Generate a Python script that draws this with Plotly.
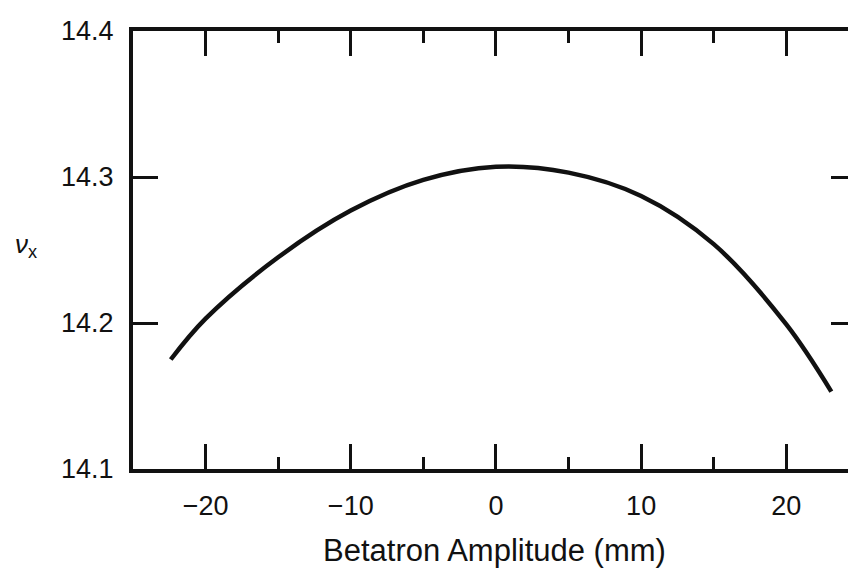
import plotly.graph_objects as go

# betatron amplitude (mm) vs horizontal tune
amplitude = [-22.4, -20, -15, -10, -5, 0, 5, 10, 15, 20, 23.1]
tune_x = [14.175, 14.203, 14.245, 14.277, 14.298, 14.307, 14.303, 14.287, 14.254, 14.199, 14.153]

x_ticks = [-20, -10, 0, 10, 20]
y_ticks = [14.1, 14.2, 14.3, 14.4]

ink = "#111111"
font = "Liberation Sans, Arial, Helvetica, sans-serif"

fig = go.Figure()

fig.add_trace(
    go.Scatter(
        x=amplitude,
        y=tune_x,
        mode="lines",
        line=dict(color=ink, width=4.5, shape="spline", smoothing=1.0),
        showlegend=False,
    )
)

fig.update_xaxes(
    range=[-25, 24.8],
    tickvals=x_ticks,
    ticks="inside",
    ticklen=25,
    tickwidth=2.5,
    tickcolor=ink,
    showline=True,
    linewidth=4,
    linecolor=ink,
    mirror="ticks",
    showgrid=False,
    zeroline=False,
    automargin=False,
    minor=dict(ticks="inside", ticklen=12, tickwidth=2.5, tickcolor=ink, dtick=5, tick0=0, showgrid=False),
    tickfont=dict(family=font, size=27, color=ink),
    ticklabelstandoff=10,
    title=dict(text="Betatron Amplitude (mm)", font=dict(family=font, size=31, color=ink), standoff=20),
)

fig.update_yaxes(
    range=[14.1, 14.4],
    tickvals=y_ticks,
    tickformat=".1f",
    ticks="inside",
    ticklen=25,
    tickwidth=3,
    tickcolor=ink,
    showline=True,
    linewidth=4,
    linecolor=ink,
    mirror="ticks",
    showgrid=False,
    zeroline=False,
    automargin=False,
    tickfont=dict(family=font, size=27, color=ink),
    ticklabelstandoff=10,
)

fig.add_annotation(
    text="<i>ν</i><sub>x</sub>",
    xref="paper",
    yref="y",
    x=-0.166,
    y=14.253,
    showarrow=False,
    font=dict(family=font, size=26, color=ink),
)

# the page body adds an 8px margin, so the figure is 8px smaller each way
fig.update_layout(
    width=848,
    height=571,
    margin=dict(l=125, r=0, t=23, b=110),
    paper_bgcolor="white",
    plot_bgcolor="white",
)

fig.write_html("out.html")
